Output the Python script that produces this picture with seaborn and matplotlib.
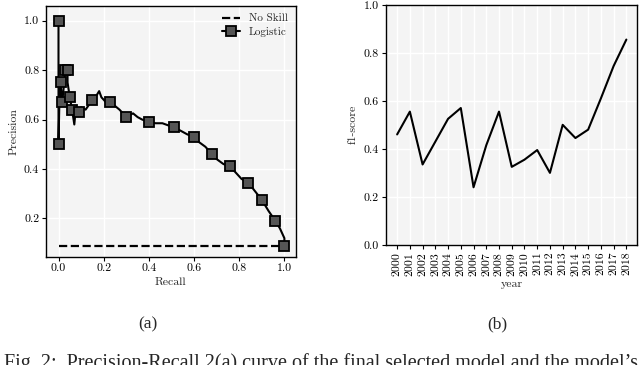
import numpy as np
import pandas as pd
import matplotlib
matplotlib.use("Agg")
import matplotlib.pyplot as plt
import seaborn as sns

# precision-recall curve
recall = [0.0, 0.0, 0.005, 0.01, 0.015, 0.02, 0.03, 0.04, 0.04, 0.045, 0.05, 0.06,
          0.07, 0.075, 0.09, 0.10, 0.12, 0.15, 0.17, 0.18, 0.19, 0.21, 0.23, 0.25,
          0.27, 0.29, 0.30, 0.32, 0.33, 0.35, 0.37, 0.40, 0.43, 0.46, 0.49, 0.51,
          0.54, 0.57, 0.60, 0.62, 0.65, 0.67, 0.68, 0.70, 0.73, 0.76, 0.78, 0.81,
          0.84, 0.87, 0.90, 0.93, 0.96, 0.98, 1.0, 1.0]
precision = [1.0, 0.5, 0.72, 0.75, 0.67, 0.70, 0.80, 0.80, 0.75, 0.72, 0.69, 0.64,
             0.58, 0.63, 0.63, 0.65, 0.64, 0.68, 0.70, 0.715, 0.69, 0.67, 0.67, 0.655,
             0.64, 0.62, 0.61, 0.62, 0.625, 0.61, 0.60, 0.59, 0.585, 0.585, 0.575, 0.57,
             0.555, 0.54, 0.53, 0.51, 0.49, 0.47, 0.46, 0.44, 0.42, 0.41, 0.39, 0.36,
             0.345, 0.31, 0.275, 0.23, 0.19, 0.16, 0.12, 0.09]
marker_idx = [0, 1, 3, 4, 6, 7, 10, 11, 14, 17, 22, 26, 31, 35, 38, 42, 45, 48, 50, 52, 55]
no_skill = 0.09

# f1-score per year
years = [str(y) for y in range(2000, 2019)]
f1 = [0.46, 0.555, 0.335, 0.43, 0.525, 0.57, 0.24, 0.415, 0.555, 0.325,
      0.355, 0.395, 0.30, 0.50, 0.445, 0.48, 0.61, 0.745, 0.855]

TICK = 8.5

sns.set_theme(style="darkgrid", rc={
    "axes.facecolor": "#f4f4f4",
    "axes.edgecolor": "black",
    "axes.linewidth": 1.0,
    "grid.color": "white",
    "grid.linewidth": 1.0,
    "xtick.bottom": True,
    "ytick.left": True,
    "xtick.color": "black",
    "ytick.color": "black",
    "xtick.major.size": 3,
    "ytick.major.size": 3,
    "xtick.major.width": 0.8,
    "ytick.major.width": 0.8,
    "xtick.direction": "out",
    "ytick.direction": "out",
})
plt.rcParams["font.family"] = ["cmr10", "DejaVu Serif"]
plt.rcParams["axes.formatter.use_mathtext"] = True
plt.rcParams["axes.unicode_minus"] = False

fig = plt.figure(figsize=(6.4, 3.65), dpi=100)
ax1 = fig.add_axes([0.072, 0.296, 0.39, 0.688])
ax2 = fig.add_axes([0.603, 0.329, 0.392, 0.658])

pr = pd.DataFrame({"Recall": recall, "Precision": precision})
ns = pd.DataFrame({"Recall": [0.0, 1.0], "Precision": [no_skill, no_skill]})

sns.lineplot(data=ns, x="Recall", y="Precision", ax=ax1, color="black",
             linestyle="--", linewidth=1.6, label="No Skill")
sns.lineplot(data=pr, x="Recall", y="Precision", ax=ax1, color="black",
             sort=False, estimator=None, linewidth=1.5, marker="s",
             markevery=marker_idx, markersize=6.5, markerfacecolor="#555555",
             markeredgecolor="black", markeredgewidth=1.3, label="Logistic")
ax1.set_xlim(-0.055, 1.05)
ax1.set_ylim(0.044, 1.06)
ax1.set_xticks([0.0, 0.2, 0.4, 0.6, 0.8, 1.0])
ax1.set_yticks([0.2, 0.4, 0.6, 0.8, 1.0])
ax1.set_xticklabels(["0.0", "0.2", "0.4", "0.6", "0.8", "1.0"])
ax1.set_yticklabels(["0.2", "0.4", "0.6", "0.8", "1.0"])
ax1.tick_params(labelsize=TICK, pad=2)
ax1.set_xlabel("Recall", fontsize=TICK, labelpad=3)
ax1.set_ylabel("Precision", fontsize=TICK, labelpad=4)
ax1.legend(loc="upper right", frameon=False, fontsize=8, handlelength=1.6,
           borderaxespad=0.3, labelspacing=0.3)

yr = pd.DataFrame({"year": years, "f1-score": f1})
sns.lineplot(data=yr, x="year", y="f1-score", ax=ax2, color="black", linewidth=1.5)
ax2.set_ylim(0.0, 1.0)
ax2.set_xlim(-0.88, 18.82)
ax2.set_yticks([0.0, 0.2, 0.4, 0.6, 0.8, 1.0])
ax2.set_yticklabels(["0.0", "0.2", "0.4", "0.6", "0.8", "1.0"])
ax2.tick_params(axis="x", labelrotation=90)
ax2.tick_params(labelsize=TICK, pad=2)
ax2.set_xlabel("year", fontsize=TICK, labelpad=3)
ax2.set_ylabel("f1-score", fontsize=TICK, labelpad=4)

for ax in (ax1, ax2):
    for s in ax.spines.values():
        s.set_visible(True)
        s.set_color("black")

fig.text(0.231, 0.112, "(a)", fontsize=12.5, family="Liberation Serif", ha="center", va="center")
fig.text(0.777, 0.112, "(b)", fontsize=12.5, family="Liberation Serif", ha="center", va="center")
# caption of the source page, clipped by the bottom edge as in the reference
fig.text(0.006, -0.009, "Fig. 2:  Precision-Recall 2(a) curve of the final selected model and the model\u2019s",
         fontsize=14.5, family="Liberation Serif", ha="left", va="baseline")

fig.savefig("out.png", dpi=100)
